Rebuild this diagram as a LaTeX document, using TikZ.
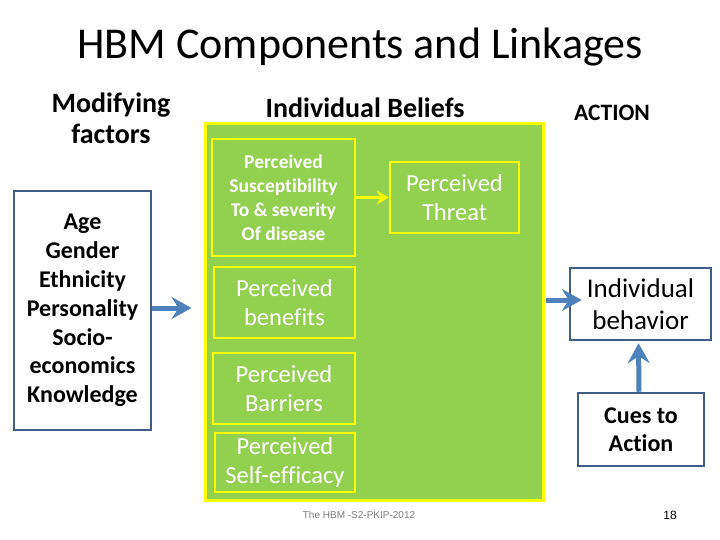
\documentclass[tikz,border=0pt]{standalone}
\usepackage{fontspec}
\setmainfont{Carlito}[Ligatures=NoCommon]
\newfontfamily\arialfont{Liberation Sans}
\usetikzlibrary{arrows.meta}
\definecolor{boxblue}{HTML}{3F5D85}
\definecolor{arrowblue}{HTML}{4F81BD}
\definecolor{beliefgreen}{HTML}{92D050}
\definecolor{ylw}{HTML}{FFFF00}
\definecolor{footgray}{HTML}{7F7F7F}
\tikzset{
  bluebox/.style={draw=boxblue, line width=2.5pt, fill=white, align=center, inner sep=0pt},
  ybox/.style={draw=ylw, line width=2.5pt, fill=beliefgreen, align=center, inner sep=0pt, text=white},
  bigarrow/.style={draw=arrowblue, line width=5pt, -{Stealth[length=20pt,width=22pt,inset=7pt]}},
  yarrow/.style={draw=ylw, line width=3.5pt, -{Stealth[length=12pt,width=14pt,inset=4pt]}},
  hdr/.style={align=center, font=\bfseries\fontsize{28}{31}\selectfont}
}
\begin{document}
\begin{tikzpicture}[x=1pt,y=-1pt]
\useasboundingbox (0,0) rectangle (720,540);
\fill[white] (0,0) rectangle (720,540);

\node[font=\fontsize{44}{48}\selectfont] (title) at (360,47) {HBM Components and Linkages};
\node[hdr] (modh) at (111,118) {Modifying\\factors};
\node[hdr] (indh) at (365,108) {Individual Beliefs};
\node[font=\bfseries\fontsize{23.5}{24}\selectfont] (acth) at (612,113) {ACTION};

\node[bluebox, minimum width=137pt, minimum height=239pt, font=\bfseries\fontsize{24}{28.8}\selectfont] (mod) at (82.5,310.5)
  {Age\\Gender\\Ethnicity\\Personality\\Socio-\\economics\\Knowledge};

\node[draw=ylw, line width=3pt, fill=beliefgreen, minimum width=338pt, minimum height=376pt, inner sep=0pt] (green) at (374,312) {};

\node[ybox, minimum width=143pt, minimum height=117pt, font=\bfseries\fontsize{19.5}{24}\selectfont] (sus) at (283.5,197.5)
  {Perceived\\Susceptibility\\To \& severity\\Of disease};
\node[ybox, minimum width=129pt, minimum height=71pt, font=\fontsize{24.5}{29}\selectfont] (threat) at (454.5,197.5)
  {Perceived\\Threat};
\node[ybox, minimum width=141pt, minimum height=71pt, font=\fontsize{24.5}{29}\selectfont] (ben) at (284.5,302.5)
  {Perceived\\benefits};
\node[ybox, minimum width=142pt, minimum height=71pt, font=\fontsize{24.5}{29}\selectfont] (bar) at (284,388.5)
  {Perceived\\Barriers};
\node[ybox, minimum width=140pt, minimum height=59pt, font=\fontsize{24.5}{29}\selectfont] (self) at (285,462.5)
  {Perceived\\Self-efficacy};

\node[bluebox, minimum width=141pt, minimum height=72pt, font=\fontsize{27}{32}\selectfont] (beh) at (640.5,304)
  {Individual\\behavior};
\node[bluebox, minimum width=126pt, minimum height=73pt, font=\bfseries\fontsize{24}{28}\selectfont] (cues) at (641,429.5)
  {Cues to\\Action};

\node[font=\arialfont\fontsize{10}{12}\selectfont, text=footgray] (foot) at (359,515) {The HBM -S2-PKIP-2012};
\node[font=\arialfont\fontsize{12}{12}\selectfont] (num) at (670,515) {18};

\draw[yarrow] (sus.east) -- (threat.west);
\draw[bigarrow, shorten >=12pt] ([yshift=2.5pt]mod.east) -- ([yshift=2.5pt]mod.east -| green.west);
\draw[bigarrow, shorten >=-13pt, shorten <=1.5pt] ([yshift=4pt]beh.west -| green.east) -- ([yshift=4pt]beh.west);
\draw[bigarrow, shorten >=2pt] ([xshift=-2pt]cues.north) -- ([xshift=-2pt]beh.south);
\end{tikzpicture}
\end{document}
